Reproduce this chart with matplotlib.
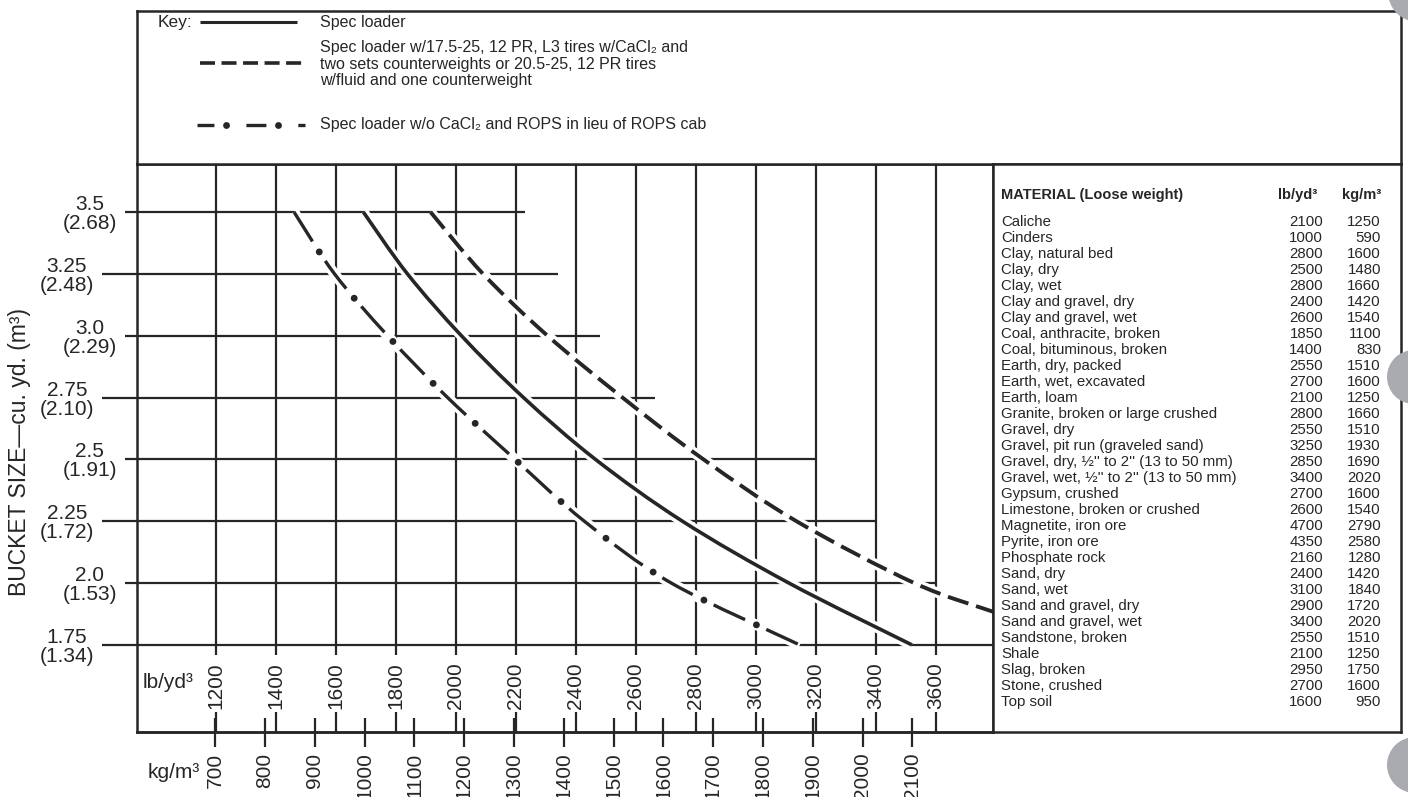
import matplotlib
matplotlib.use('Agg')
import matplotlib.pyplot as plt
from matplotlib.patches import Circle, PathPatch
from matplotlib.path import Path

plt.rcParams['font.family'] = ['Liberation Sans', 'DejaVu Sans']
plt.rcParams['lines.scale_dashes'] = False

INK = '#262626'
W, H = 1408, 797
PT = 0.72  # points per pixel at 100 dpi

# ---------------- data ----------------
bucket_yd3 = [3.5, 3.25, 3.0, 2.75, 2.5, 2.25, 2.0, 1.75]
bucket_m3 = ['2.68', '2.48', '2.29', '2.10', '1.91', '1.72', '1.53', '1.34']
grid_end_lb = [2230, 2340, 2480, 2665, 3200, 3400, 3600, None]

lb_ticks = [1200, 1400, 1600, 1800, 2000, 2200, 2400, 2600, 2800, 3000, 3200, 3400, 3600]
kg_ticks = [700, 800, 900, 1000, 1100, 1200, 1300, 1400, 1500, 1600, 1700, 1800, 1900, 2000, 2100]
# printed kg/m3 scale as drafted under the lb/yd3 scale: lb = KG_A * kg + KG_B
KG_A, KG_B = 1.6603, 35.0

spec_bucket = [3.5, 3.25, 3.0, 2.75, 2.5, 2.25, 2.0, 1.75]
spec_lb = [1691, 1838, 2018, 2225, 2465, 2755, 3110, 3520]

heavy_bucket = [3.5, 3.25, 3.0, 2.75, 2.5, 2.25, 2.0, 1.884]
heavy_lb = [1915, 2090, 2305, 2555, 2825, 3135, 3528, 3791]

light_bucket = [3.5, 3.25, 3.0, 2.75, 2.5, 2.25, 2.0, 1.75]
light_lb = [1460, 1595, 1772, 1972, 2197, 2428, 2718, 3146]

materials = ['Caliche', 'Cinders', 'Clay, natural bed', 'Clay, dry', 'Clay, wet',
             'Clay and gravel, dry', 'Clay and gravel, wet', 'Coal, anthracite, broken',
             'Coal, bituminous, broken', 'Earth, dry, packed', 'Earth, wet, excavated',
             'Earth, loam', 'Granite, broken or large crushed', 'Gravel, dry',
             'Gravel, pit run (graveled sand)', "Gravel, dry, \u00bd'' to 2'' (13 to 50 mm)",
             "Gravel, wet, \u00bd'' to 2'' (13 to 50 mm)", 'Gypsum, crushed',
             'Limestone, broken or crushed', 'Magnetite, iron ore', 'Pyrite, iron ore',
             'Phosphate rock', 'Sand, dry', 'Sand, wet', 'Sand and gravel, dry',
             'Sand and gravel, wet', 'Sandstone, broken', 'Shale', 'Slag, broken',
             'Stone, crushed', 'Top soil']
mat_lb = [2100, 1000, 2800, 2500, 2800, 2400, 2600, 1850, 1400, 2550, 2700, 2100, 2800,
          2550, 3250, 2850, 3400, 2700, 2600, 4700, 4350, 2160, 2400, 3100, 2900, 3400,
          2550, 2100, 2950, 2700, 1600]
mat_kg = [1250, 590, 1600, 1480, 1660, 1420, 1540, 1100, 830, 1510, 1600, 1250, 1660,
          1510, 1930, 1690, 2020, 1600, 1540, 2790, 2580, 1280, 1420, 1840, 1720, 2020,
          1510, 1250, 1750, 1600, 950]

key_labels = ['Spec loader',
              'Spec loader w/17.5-25, 12 PR, L3 tires w/CaCl\u2082 and\n'
              'two sets counterweights or 20.5-25, 12 PR tires\n'
              'w/fluid and one counterweight',
              'Spec loader w/o CaCl\u2082 and ROPS in lieu of ROPS cab']


def smooth_path(xs, ys):
    """Smooth curve through the read points (Catmull-Rom as cubic Bezier)."""
    pts = list(zip(xs, ys))
    n = len(pts)
    verts = [pts[0]]
    codes = [Path.MOVETO]
    for i in range(n - 1):
        p0 = pts[i - 1] if i > 0 else pts[i]
        p1, p2 = pts[i], pts[i + 1]
        p3 = pts[i + 2] if i + 2 < n else pts[i + 1]
        c1 = (p1[0] + (p2[0] - p0[0]) / 6, p1[1] + (p2[1] - p0[1]) / 6)
        c2 = (p2[0] - (p3[0] - p1[0]) / 6, p2[1] - (p3[1] - p1[1]) / 6)
        verts += [c1, c2, p2]
        codes += [Path.CURVE4] * 3
    return Path(verts, codes)


# ---------------- figure ----------------
fig = plt.figure(figsize=(W / 100, H / 100), dpi=100)
fig.patch.set_facecolor('white')


def rect(x0, y0, x1, y1):
    return [x0 / W, 1 - y1 / H, (x1 - x0) / W, (y1 - y0) / H]


LW = 1.6
# main chart
ax = fig.add_axes(rect(137, 164, 993, 732))
x_left = 1200 + (137 - 216) / 0.3
x_right = 1200 + (993 - 216) / 0.3
ax.set_xlim(x_left, x_right)
ax.set_ylim(3.5 - (732 - 212) / 247.4, 3.5 + (212 - 164) / 247.4)
for s in ax.spines.values():
    s.set_linewidth(1.8)
    s.set_color(INK)

# vertical grid lines (stop just below the 1.75 line)
ax.vlines(lb_ticks, (732 - 655) / 568, 1.0, transform=ax.get_xaxis_transform(),
          color=INK, lw=LW, zorder=1)
# horizontal grid lines
for yv, xe in zip(bucket_yd3, grid_end_lb):
    ax.hlines(yv, x_left, xe if xe is not None else x_right, color=INK, lw=LW, zorder=1)

# y ticks: alternate short/long
major = bucket_yd3[0::2]
minor = bucket_yd3[1::2]
lab = [f'{a:g}\n({b})' if a not in (3.0, 2.0) else f'{a:.1f}\n({b})'
       for a, b in zip(bucket_yd3, bucket_m3)]
ax.set_yticks(major)
ax.set_yticklabels(lab[0::2])
ax.set_yticks(minor, minor=True)
ax.set_yticklabels(lab[1::2], minor=True)
ax.tick_params(axis='y', which='major', direction='out', length=12 * PT, width=LW,
               color=INK, pad=8 * PT, labelsize=15, labelcolor=INK)
ax.tick_params(axis='y', which='minor', direction='out', length=35 * PT, width=LW,
               color=INK, pad=8 * PT, labelsize=15, labelcolor=INK)
for t in ax.get_yticklabels() + ax.get_yticklabels(minor=True):
    t.set_multialignment('center')
    t.set_linespacing(1.0)

# x ticks (lb) : short stubs above kg line
ax.set_xticks(lb_ticks)
ax.tick_params(axis='x', direction='in', length=20 * PT, width=LW, color=INK,
               labelbottom=False)
for v in lb_ticks:
    ax.text(v, (732 - 686) / 568, str(v), transform=ax.get_xaxis_transform(),
            rotation=90, ha='center', va='center', fontsize=15, color=INK)

# kg secondary scale
sec = ax.secondary_xaxis('bottom', functions=(lambda lb: (lb - KG_B) / KG_A,
                                             lambda kg: kg * KG_A + KG_B))
sec.set_xticks(kg_ticks)
sec.set_xticklabels([str(k) for k in kg_ticks], rotation=90, fontsize=15, color=INK)
sec.tick_params(direction='inout', length=29 * PT, width=LW, color=INK, pad=6 * PT)
sec.spines['bottom'].set_linewidth(1.8)
sec.spines['bottom'].set_color(INK)

# curves with white halo
paths = [smooth_path(spec_lb, spec_bucket), smooth_path(heavy_lb, heavy_bucket),
         smooth_path(light_lb, light_bucket)]
for p in paths:
    ax.add_patch(PathPatch(p, fill=False, edgecolor='white', lw=7.5, capstyle='butt',
                           zorder=2))
ax.add_patch(PathPatch(paths[0], fill=False, edgecolor=INK, lw=2.6, capstyle='butt',
                       zorder=3))
ax.add_patch(PathPatch(paths[1], fill=False, edgecolor=INK, lw=2.8,
                       linestyle=(0, (15.5, 5.8)), capstyle='butt', zorder=3))
ax.add_patch(PathPatch(paths[2], fill=False, edgecolor=INK, lw=2.4,
                       linestyle=(0, (25.0, 16.8)), capstyle='butt', zorder=3))
ax.add_patch(PathPatch(paths[2], fill=False, edgecolor=INK, lw=5.0,
                       linestyle=(7.8, (0.01, 41.79)), capstyle='round', zorder=3))

# key box
kax = fig.add_axes(rect(137, 11, 1401, 164))
kax.set_xlim(137, 1401)
kax.set_ylim(164, 11)
kax.set_xticks([])
kax.set_yticks([])
for s in kax.spines.values():
    s.set_linewidth(1.8)
    s.set_color(INK)
kax.text(158, 22, 'Key:', fontsize=12.5, ha='left', va='center', color=INK)
kax.plot([200, 297], [22, 22], color=INK, lw=2.2, solid_capstyle='butt')
kax.plot([200, 304], [63, 63], color=INK, lw=2.6, linestyle=(0, (10.8, 4.7)),
         dash_capstyle='butt')
kax.plot([197, 305], [125, 125], color=INK, lw=2.4, linestyle=(2.2, (14.4, 23.0)),
         dash_capstyle='butt')
kax.plot([197, 305], [125, 125], color=INK, lw=5.0, linestyle=(16.5, (0.01, 37.4)),
         dash_capstyle='round')
kax.text(320, 22, key_labels[0], fontsize=11.5, ha='left', va='center', color=INK)
kax.text(320, 64, key_labels[1], fontsize=11.5, ha='left', va='center', color=INK,
         linespacing=1.15)
kax.text(320, 125, key_labels[2], fontsize=11.5, ha='left', va='center', color=INK)

# table box
tax = fig.add_axes(rect(993, 164, 1401, 732))
tax.set_xlim(993, 1401)
tax.set_ylim(732, 164)
tax.set_xticks([])
tax.set_yticks([])
for s in tax.spines.values():
    s.set_linewidth(1.8)
    s.set_color(INK)
tax.text(1001, 195, 'MATERIAL (Loose weight)', fontsize=10.5, fontweight='bold',
         ha='left', va='center', color=INK)
tax.text(1317, 195, 'lb/yd\u00b3', fontsize=10.5, fontweight='bold', ha='right',
         va='center', color=INK)
tax.text(1381, 195, 'kg/m\u00b3', fontsize=10.5, fontweight='bold', ha='right',
         va='center', color=INK)
for i, (m, a, b) in enumerate(zip(materials, mat_lb, mat_kg)):
    yy = 222 + 16 * i
    tax.text(1001, yy, m, fontsize=10.8, ha='left', va='center', color=INK)
    tax.text(1323, yy, str(a), fontsize=10.8, ha='right', va='center', color=INK)
    tax.text(1381, yy, str(b), fontsize=10.8, ha='right', va='center', color=INK)

# overlay in pixel coordinates
oax = fig.add_axes([0, 0, 1, 1], zorder=10)
oax.set_xlim(0, W)
oax.set_ylim(H, 0)
oax.axis('off')
oax.text(20, 452, 'BUCKET SIZE\u2014cu. yd. (m\u00b3)', rotation=90, ha='center',
         va='center', fontsize=16.5, color=INK)
oax.text(143, 683, 'lb/yd\u00b3', ha='left', va='center', fontsize=15, color=INK)
oax.text(148, 773, 'kg/m\u00b3', ha='left', va='center', fontsize=15, color=INK)
for c in ((1418, -8, 30), (1414, 377, 27), (1415, 765, 28)):
    oax.add_patch(Circle((c[0], c[1]), c[2], color='#a9abb1', lw=0))

fig.savefig('out.png', dpi=100)
